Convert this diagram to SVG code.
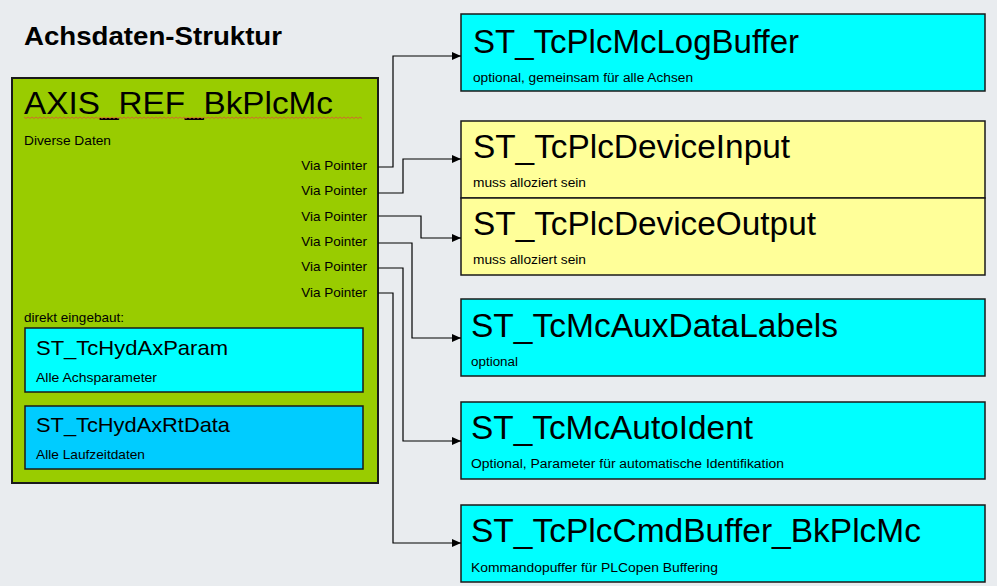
<svg xmlns="http://www.w3.org/2000/svg" width="997" height="586" viewBox="0 0 997 586">
<defs>
<marker id="arr" markerWidth="9" markerHeight="8" refX="9" refY="4" orient="auto" markerUnits="userSpaceOnUse">
<path d="M0,0 L9,4 L0,8 Z" fill="#000"/>
</marker>
<style>
text{font-family:"Liberation Sans",Arial,sans-serif;fill:#000}
.box{stroke:#1a1a1a;stroke-width:1.5}
.cyan{fill:#00ffff}
.yel{fill:#ffff99}
.big{font-size:34px}
.sub{font-size:12px}
.small{font-size:13.5px}
.conn{fill:none;stroke:#000;stroke-width:1.2;marker-end:url(#arr)}
</style>
</defs>
<rect x="0" y="0" width="997" height="586" fill="#e9ecef"/>
<text x="24" y="45" font-size="26" font-weight="bold" textLength="258" lengthAdjust="spacingAndGlyphs">Achsdaten-Struktur</text>

<g id="axis_ref">
<rect x="12" y="78" width="366" height="405" fill="#99cc00" stroke="#1a1a1a" stroke-width="2"/>
<text x="24" y="114" font-size="32" textLength="309" lengthAdjust="spacingAndGlyphs">AXIS_REF_BkPlcMc</text>
<path d="M24,117 l2,1.5 l2,-1.5 l2,1.5 l2,-1.5 l2,1.5 l2,-1.5 l2,1.5 l2,-1.5 l2,1.5 l2,-1.5 l2,1.5 l2,-1.5 l2,1.5 l2,-1.5 l2,1.5 l2,-1.5 l2,1.5 l2,-1.5 l2,1.5 l2,-1.5 l2,1.5 l2,-1.5 l2,1.5 l2,-1.5 l2,1.5 l2,-1.5 l2,1.5 l2,-1.5 l2,1.5 l2,-1.5 l2,1.5 l2,-1.5 l2,1.5 l2,-1.5 l2,1.5 l2,-1.5 l2,1.5 l2,-1.5 l2,1.5 l2,-1.5 l2,1.5 l2,-1.5 l2,1.5 l2,-1.5 l2,1.5 l2,-1.5 l2,1.5 l2,-1.5 l2,1.5 l2,-1.5 l2,1.5 l2,-1.5 l2,1.5 l2,-1.5 l2,1.5 l2,-1.5 l2,1.5 l2,-1.5 l2,1.5 l2,-1.5 l2,1.5 l2,-1.5 l2,1.5 l2,-1.5 l2,1.5 l2,-1.5 l2,1.5 l2,-1.5 l2,1.5 l2,-1.5 l2,1.5 l2,-1.5 l2,1.5 l2,-1.5 l2,1.5 l2,-1.5 l2,1.5 l2,-1.5 l2,1.5 l2,-1.5 l2,1.5 l2,-1.5 l2,1.5 l2,-1.5 l2,1.5 l2,-1.5 l2,1.5 l2,-1.5 l2,1.5 l2,-1.5 l2,1.5 l2,-1.5 l2,1.5 l2,-1.5 l2,1.5 l2,-1.5 l2,1.5 l2,-1.5 l2,1.5 l2,-1.5 l2,1.5 l2,-1.5 l2,1.5 l2,-1.5 l2,1.5 l2,-1.5 l2,1.5 l2,-1.5 l2,1.5 l2,-1.5 l2,1.5 l2,-1.5 l2,1.5 l2,-1.5 l2,1.5 l2,-1.5 l2,1.5 l2,-1.5 l2,1.5 l2,-1.5 l2,1.5 l2,-1.5 l2,1.5 l2,-1.5 l2,1.5 l2,-1.5 l2,1.5 l2,-1.5 l2,1.5 l2,-1.5 l2,1.5 l2,-1.5 l2,1.5 l2,-1.5 l2,1.5 l2,-1.5 l2,1.5 l2,-1.5 l2,1.5 l2,-1.5 l2,1.5 l2,-1.5 l2,1.5 l2,-1.5 l2,1.5 l2,-1.5 l2,1.5 l2,-1.5 l2,1.5 l2,-1.5 l2,1.5 l2,-1.5 l2,1.5 l2,-1.5 l2,1.5 l2,-1.5 l2,1.5 l2,-1.5 l2,1.5 l2,-1.5 l2,1.5 l2,-1.5 l2,1.5 l2,-1.5 l2,1.5 l2,-1.5 l2,1.5 l2,-1.5 l2,1.5" fill="none" stroke="#e0503a" stroke-width="0.8"/>
<text x="24" y="145" class="small" textLength="87" lengthAdjust="spacingAndGlyphs">Diverse Daten</text>
<g text-anchor="end" class="small">
<text x="367" y="170">Via Pointer</text>
<text x="367" y="195">Via Pointer</text>
<text x="367" y="221">Via Pointer</text>
<text x="367" y="246">Via Pointer</text>
<text x="367" y="271">Via Pointer</text>
<text x="367" y="297">Via Pointer</text>
</g>
<text x="24" y="322" class="small" textLength="100" lengthAdjust="spacingAndGlyphs">direkt eingebaut:</text>
</g>

<g id="hydaxparam">
<rect x="25" y="328" width="338" height="64" class="box cyan"/>
<text x="36" y="355" font-size="21" textLength="192" lengthAdjust="spacingAndGlyphs">ST_TcHydAxParam</text>
<text x="36" y="382" class="small" textLength="121" lengthAdjust="spacingAndGlyphs">Alle Achsparameter</text>
</g>

<g id="hydaxrtdata">
<rect x="25" y="406" width="338" height="63" class="box" fill="#00ccff"/>
<text x="36" y="432" font-size="21" textLength="194" lengthAdjust="spacingAndGlyphs">ST_TcHydAxRtData</text>
<text x="36" y="459" class="small" textLength="109" lengthAdjust="spacingAndGlyphs">Alle Laufzeitdaten</text>
</g>

<g id="logbuffer">
<rect x="461" y="14" width="524" height="77" class="box cyan"/>
<text x="473" y="53" class="big" textLength="326" lengthAdjust="spacingAndGlyphs">ST_TcPlcMcLogBuffer</text>
<text x="473" y="82" class="sub" textLength="220" lengthAdjust="spacingAndGlyphs">optional, gemeinsam für alle Achsen</text>
</g>

<g id="deviceinput">
<rect x="461" y="121" width="524" height="77" class="box yel"/>
<text x="473" y="158" class="big" textLength="317" lengthAdjust="spacingAndGlyphs">ST_TcPlcDeviceInput</text>
<text x="473" y="187" class="sub" textLength="113" lengthAdjust="spacingAndGlyphs">muss alloziert sein</text>
</g>

<g id="deviceoutput">
<rect x="461" y="198" width="524" height="77" class="box yel"/>
<text x="473" y="235" class="big" textLength="343" lengthAdjust="spacingAndGlyphs">ST_TcPlcDeviceOutput</text>
<text x="473" y="264" class="sub" textLength="113" lengthAdjust="spacingAndGlyphs">muss alloziert sein</text>
</g>

<g id="auxdatalabels">
<rect x="461" y="299" width="524" height="77" class="box cyan"/>
<text x="471" y="337" class="big" textLength="367" lengthAdjust="spacingAndGlyphs">ST_TcMcAuxDataLabels</text>
<text x="471" y="366" class="sub" textLength="47" lengthAdjust="spacingAndGlyphs">optional</text>
</g>

<g id="autoident">
<rect x="461" y="402" width="524" height="77" class="box cyan"/>
<text x="471" y="439" class="big" textLength="282" lengthAdjust="spacingAndGlyphs">ST_TcMcAutoIdent</text>
<text x="471" y="468" class="sub" textLength="313" lengthAdjust="spacingAndGlyphs">Optional, Parameter für automatische Identifikation</text>
</g>

<g id="cmdbuffer">
<rect x="461" y="505" width="524" height="77" class="box cyan"/>
<text x="471" y="542" class="big" textLength="450" lengthAdjust="spacingAndGlyphs">ST_TcPlcCmdBuffer_BkPlcMc</text>
<text x="471" y="572" class="sub" textLength="247" lengthAdjust="spacingAndGlyphs">Kommandopuffer für PLCopen Buffering</text>
</g>

<g id="connectors">
<path class="conn" d="M378,167 H393 V56 H461"/>
<path class="conn" d="M378,193 H403 V159 H461"/>
<path class="conn" d="M378,216 H421 V238 H461"/>
<path class="conn" d="M378,243 H412 V338 H461"/>
<path class="conn" d="M378,268 H403 V441 H461"/>
<path class="conn" d="M378,293 H393 V543 H461"/>
</g>
</svg>
